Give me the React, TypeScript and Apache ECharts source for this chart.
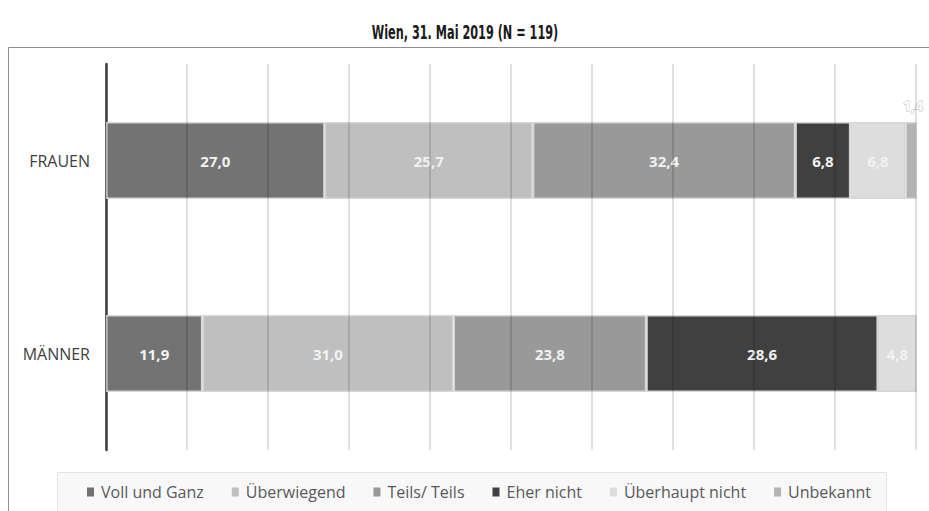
import React, { useEffect, useRef } from "react";
import * as echarts from "echarts";

const categories = ["FRAUEN", "MÄNNER"];
const seriesNames = ["Voll und Ganz", "Überwiegend", "Teils/ Teils", "Eher nicht", "Überhaupt nicht", "Unbekannt"];
const vollUndGanz = [27.0, 11.9];
const ueberwiegend = [25.7, 31.0];
const teilsTeils = [32.4, 23.8];
const eherNicht = [6.8, 28.6];
const ueberhauptNicht = [6.8, 4.8];
const unbekannt = [1.4, 0];
const seriesValues = [vollUndGanz, ueberwiegend, teilsTeils, eherNicht, ueberhauptNicht, unbekannt];
const colors = ["#737373", "#bfbfbf", "#999999", "#404040", "#dddddd", "#b3b3b3"];
const titleText = "Wien, 31. Mai 2019 (N = 119)";

export default function App() {
  const ref = useRef<HTMLDivElement>(null);
  useEffect(() => {
    if (!ref.current) return;
    const chart = echarts.init(ref.current, undefined, { renderer: "svg" });
    const fmt = (p: any) => p.value.toFixed(1).replace(".", ",");
    const series = seriesNames.map((name, i) => ({
      name,
      type: "bar",
      stack: "total",
      barWidth: "40%",
      z: 2,
      data: seriesValues[i].map((v) => (v === 0 ? null : v)),
      itemStyle: { color: colors[i], borderColor: "#d6d6d6", borderWidth: 1.5 },
      label:
        i === 5
          ? {
              show: true,
              position: "top",
              distance: 9,
              offset: [2, 0],
              color: "#ffffff",
              textBorderColor: "#bdbdbd",
              textBorderWidth: 1,
              fontFamily: "Open Sans",
              fontWeight: "bold",
              fontSize: 14,
              formatter: fmt,
            }
          : {
              show: true,
              position: "inside",
              color: "#f2f2f2",
              fontFamily: "Open Sans",
              fontWeight: "bold",
              fontSize: 15,
              formatter: fmt,
            },
    }));
    chart.setOption({
      animation: false,
      color: colors,
      graphic: [
        {
          type: "rect",
          shape: { x: 8.5, y: 47.5, width: 960, height: 520 },
          style: { fill: "none", stroke: "#8f8f8f", lineWidth: 1 },
          z: -1,
        },
        {
          type: "rect",
          shape: { x: 57.5, y: 472.5, width: 829, height: 40 },
          style: { fill: "#f8f8f8", stroke: "#e6e6e6", lineWidth: 1 },
          z: -1,
        },
        {
          type: "text",
          x: 465,
          y: 33,
          scaleX: 0.66,
          style: {
            text: titleText,
            align: "center",
            verticalAlign: "middle",
            fontFamily: "DejaVu Sans Condensed, Roboto, sans-serif",
            fontWeight: "bold",
            fontSize: 19,
            fill: "#1a1a1a",
          },
        },
      ],
      legend: {
        data: seriesNames,
        left: 82,
        top: 479,
        itemWidth: 7,
        itemHeight: 9,
        itemGap: 28,
        icon: "rect",
        itemStyle: { borderWidth: 0 },
        textStyle: { fontFamily: "Open Sans", fontSize: 16, color: "#595959", padding: [0, 0, 0, 2] },
      },
      grid: { left: 106, right: 13, top: 64, bottom: 61 },
      xAxis: {
        type: "value",
        min: 0,
        max: 100,
        interval: 10,
        z: 3,
        axisLabel: { show: false },
        axisLine: { show: false },
        axisTick: { show: false },
        splitLine: { show: true, lineStyle: { color: "rgba(0,0,0,0.17)", width: 1.5 } },
      },
      yAxis: {
        type: "category",
        data: categories,
        inverse: true,
        axisLine: { show: true, lineStyle: { color: "#404040", width: 2.5 } },
        axisTick: { show: false },
        axisLabel: { fontFamily: "Open Sans", fontSize: 16, color: "#404040", margin: 16 },
      },
      series,
    });
    return () => chart.dispose();
  }, []);
  return <div ref={ref} style={{ width: 929, height: 511, position: "absolute", left: 0, top: 0 }} />;
}
